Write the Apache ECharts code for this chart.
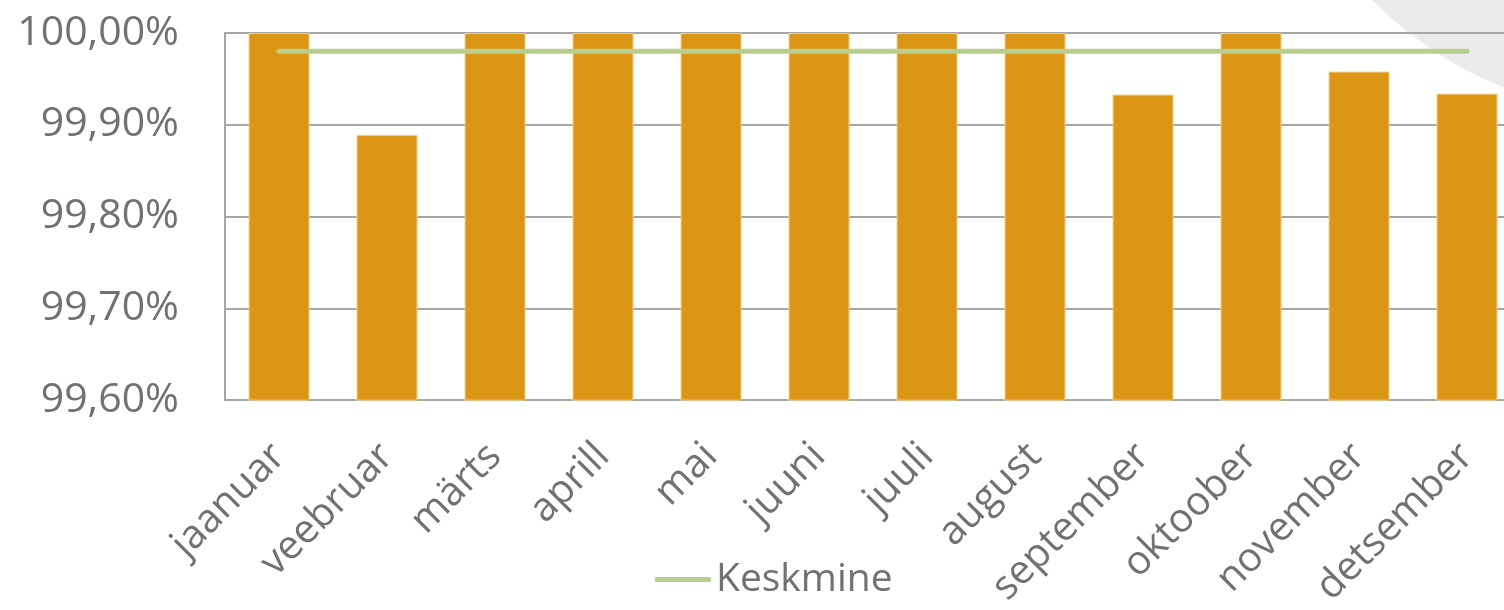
<!DOCTYPE html>
<html><head><meta charset="utf-8">
<script src="https://cdn.jsdelivr.net/npm/echarts@6/dist/echarts.min.js"></script>
<style>html,body{margin:0;padding:0;background:#fff;overflow:hidden}#c{width:1530px;height:610px}</style>
</head><body><div id="c"></div>
<script>
const categories = ['jaanuar','veebruar','märts','aprill','mai','juuni','juuli','august','september','oktoober','november','detsember'];
const monthly = [100, 99.889, 100, 100, 100, 100, 100, 100, 99.933, 100, 99.958, 99.934];
const average = [99.98, 99.98, 99.98, 99.98, 99.98, 99.98, 99.98, 99.98, 99.98, 99.98, 99.98, 99.98];
const yTicks = {min: 99.6, max: 100, interval: 0.1};

const chart = echarts.init(document.getElementById('c'), null, {renderer: 'canvas'});
const font = '"Open Sans"';
chart.setOption({
  animation: false,
  graphic: [{type: 'circle', shape: {cx: 1646, cy: -268, r: 383}, style: {fill: '#EBEBEB'}, z: -10, silent: true}],
  grid: {left: 225, top: 33, width: 1296, height: 368},
  legend: {
    data: [{name: 'Keskmine'}], left: 650, top: 555,
    itemWidth: 56, itemHeight: 5, icon: 'roundRect', itemGap: 6,
    textStyle: {fontFamily: font, fontSize: 39, color: '#717171'}
  },
  xAxis: {
    type: 'category', data: categories,
    axisLine: {lineStyle: {color: '#A6A6A6', width: 2}},
    axisTick: {show: false},
    axisLabel: {rotate: 45, fontFamily: font, fontSize: 40, color: '#717171', margin: 50, interval: 0}
  },
  yAxis: {
    type: 'value', min: yTicks.min, max: yTicks.max, interval: yTicks.interval,
    axisLine: {show: true, lineStyle: {color: '#A6A6A6', width: 2}},
    splitLine: {lineStyle: {color: '#A6A6A6', width: 2}},
    axisLabel: {fontFamily: font, fontSize: 41, color: '#717171', margin: 46,
      formatter: v => v.toFixed(2).replace('.', ',') + '%'}
  },
  series: [
    {name: 'Kuu', type: 'bar', data: monthly, barWidth: 61,
     itemStyle: {color: '#DC9616', borderColor: '#F3CF8E', borderWidth: 1}},
    {name: 'Keskmine', type: 'line', data: average, showSymbol: false, symbol: 'none',
     lineStyle: {color: '#B9CF8E', width: 5, cap: 'round'}, itemStyle: {color: '#B9CF8E'}, z: 5}
  ]
});
</script></body></html>
